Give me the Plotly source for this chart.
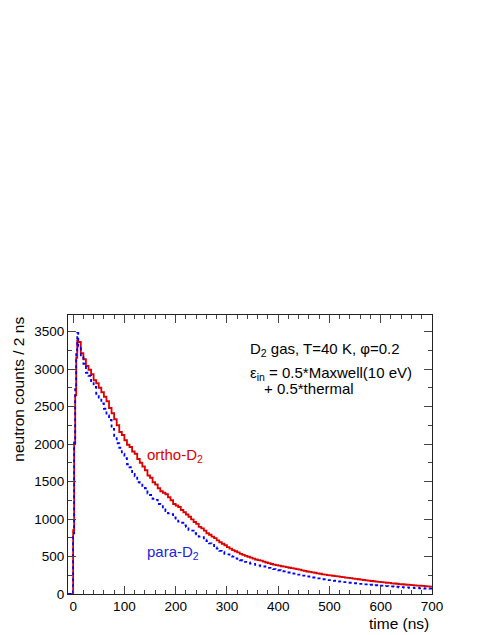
import plotly.graph_objects as go

# ---- data (neutron counts per bin) ----
fine_edges = [-10, 0, 2, 4, 6, 8]          # leading narrow bins (ns)
coarse_edges = list(range(10, 705, 5))     # 5 ns bins from 10 to 700 ns
time_edges = fine_edges + coarse_edges

ortho_counts = [
    0, 850, 2000, 2650, 3150, 3380,
    3360, 3210, 3130, 3040, 2990, 2930, 2850, 2810, 2750, 2690,
    2630, 2570, 2480, 2410, 2330, 2250, 2160, 2120, 2050, 1990,
    1960, 1900, 1870, 1800, 1750, 1700, 1650, 1580, 1550, 1490,
    1460, 1410, 1370, 1350, 1330, 1290, 1250, 1200, 1180, 1160,
    1120, 1090, 1060, 1030, 995, 960, 935, 895, 875, 845,
    810, 790, 765, 745, 715, 690, 670, 650, 625, 605,
    585, 570, 555, 535, 522, 508, 497, 485, 472, 460,
    452, 444, 432, 420, 412, 400, 393, 385, 378, 370,
    365, 358, 350, 345, 338, 332, 325, 316, 308, 300,
    296, 288, 283, 274, 270, 262, 258, 251, 248, 243,
    238, 235, 229, 226, 219, 216, 211, 206, 202, 197,
    191, 187, 182, 179, 173, 170, 166, 161, 158, 155,
    150, 148, 142, 140, 137, 132, 130, 127, 123, 121,
    118, 116, 112, 110, 108, 104, 102, 98,
]
para_counts = [
    0, 780, 2020, 2750, 3250, 3480,
    3300, 3160, 3070, 2950, 2910, 2810, 2760, 2670, 2620, 2540,
    2470, 2380, 2320, 2200, 2090, 2010, 1950, 1870, 1810, 1730,
    1690, 1600, 1570, 1490, 1485, 1430, 1410, 1340, 1320, 1270,
    1255, 1200, 1190, 1140, 1105, 1075, 1065, 1020, 1005, 965,
    950, 915, 895, 855, 845, 810, 795, 765, 758, 725,
    705, 675, 655, 620, 605, 575, 565, 535, 528, 505,
    498, 476, 470, 450, 447, 428, 423, 405, 402, 388,
    383, 368, 367, 350, 349, 333, 332, 318, 317, 303,
    302, 288, 287, 273, 272, 258, 259, 246, 246, 234,
    232, 220, 220, 208, 208, 197, 197, 186, 186, 176,
    177, 167, 168, 158, 159, 150, 150, 142, 143, 135,
    136, 128, 129, 121, 123, 115, 117, 109, 112, 105,
    106, 100, 101, 95, 97, 90, 92, 86, 88, 83,
    84, 79, 81, 76, 78, 73, 75, 72,
]

x_ticks = [0, 100, 200, 300, 400, 500, 600, 700]
y_ticks = [0, 500, 1000, 1500, 2000, 2500, 3000, 3500]

RED = "#dd0000"
BLUE = "#0000ff"
FONT = "Liberation Sans, Arial, sans-serif"

fig = go.Figure()
fig.add_trace(go.Scatter(
    x=time_edges, y=ortho_counts + [ortho_counts[-1]],
    mode="lines", line=dict(shape="hv", color=RED, width=1.8),
    showlegend=False, hoverinfo="skip"))
fig.add_trace(go.Scatter(
    x=time_edges, y=para_counts + [para_counts[-1]],
    mode="lines", line=dict(shape="hv", color=BLUE, width=1.8, dash="dot"),
    showlegend=False, hoverinfo="skip"))

axis_common = dict(
    showline=True, linecolor="#222222", linewidth=1, mirror="allticks",
    ticks="inside", ticklen=8, tickwidth=1, tickcolor="#444444",
    showgrid=False, zeroline=False,
    tickfont=dict(family=FONT, size=13.5, color="black"),
)
fig.update_xaxes(range=[-10, 700], tickvals=x_ticks,
                 ticktext=[str(v) for v in x_ticks],
                 minor=dict(dtick=20, tick0=0, ticks="inside", ticklen=4,
                            tickcolor="#444444"),
                 **axis_common)
fig.update_yaxes(range=[0, 3720], tickvals=y_ticks,
                 ticktext=[str(v) for v in y_ticks],
                 minor=dict(dtick=250, tick0=0, ticks="inside", ticklen=4,
                            tickcolor="#444444"),
                 **axis_common)

ann = []
def add_text(x, y, text, color="black", size=15, xanchor="left", angle=0):
    ann.append(dict(x=x, y=y, xref="paper", yref="paper", text=text,
                    showarrow=False, xanchor=xanchor, yanchor="middle",
                    textangle=angle,
                    font=dict(family=FONT, size=size, color=color)))

add_text(0.4945, 0.878, "D<sub>2</sub> gas, T=40 K, φ=0.2")
add_text(0.4945, 0.792, "ε<sub>in</sub> = 0.5*Maxwell(10 eV)")
add_text(0.533, 0.735, "+ 0.5*thermal")
add_text(0.2115, 0.498, "ortho-D<sub>2</sub>", color=RED)
add_text(0.2115, 0.1505, "para-D<sub>2</sub>", color="#2222dd")
add_text(0.997, -0.104, "time (ns)", size=15.5, xanchor="right")
add_text(-0.137, 0.733, "neutron counts / 2 ns", size=15.5, xanchor="center", angle=-90)

# page body has an 8px default margin, so the figure is sized to fit
fig.update_layout(
    width=483, height=627,
    margin=dict(l=60, r=59, t=307, b=41, pad=0),
    paper_bgcolor="white", plot_bgcolor="white",
    annotations=ann,
    font=dict(family=FONT),
)

fig.write_html("out.html")
